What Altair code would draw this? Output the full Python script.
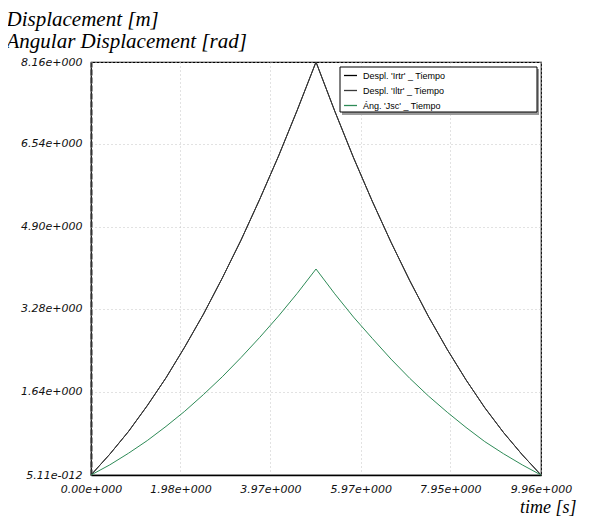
import altair as alt
import pandas as pd

# ---- data ----
time_s = [0.000, 0.415, 0.830, 1.245, 1.660, 2.075, 2.490, 2.905, 3.320, 3.735, 4.150, 4.565, 4.980,
          5.395, 5.810, 6.225, 6.640, 7.055, 7.470, 7.885, 8.300, 8.715, 9.130, 9.545, 9.960]
despl_irtr = [0.00, 0.41, 0.86, 1.37, 1.92, 2.53, 3.18, 3.89, 4.64, 5.45, 6.30, 7.21, 8.16,
              7.19, 6.27, 5.41, 4.60, 3.84, 3.13, 2.48, 1.88, 1.33, 0.84, 0.40, 0.00]
despl_iltr = [0.00, 0.41, 0.86, 1.37, 1.92, 2.53, 3.18, 3.89, 4.64, 5.45, 6.30, 7.21, 8.16,
              7.19, 6.27, 5.41, 4.60, 3.84, 3.13, 2.48, 1.88, 1.33, 0.84, 0.40, 0.00]
ang_jsc = [0.00, 0.20, 0.43, 0.68, 0.96, 1.26, 1.59, 1.94, 2.32, 2.72, 3.14, 3.59, 4.07,
           3.58, 3.12, 2.70, 2.29, 1.91, 1.56, 1.24, 0.94, 0.66, 0.42, 0.20, 0.00]

series_names = ["Despl. 'Irtr' _ Tiempo", "Despl. 'Iltr' _ Tiempo", "Áng. 'Jsc' _ Tiempo"]
series_colors = ["#000000", "#3a3a3a", "#2e8b57"]

x_tick_values = [0.0, 1.98, 3.97, 5.97, 7.95, 9.96]
x_tick_labels = ["0.00e+000", "1.98e+000", "3.97e+000", "5.97e+000", "7.95e+000", "9.96e+000"]
y_tick_values = [0.0, 1.64, 3.28, 4.90, 6.54, 8.16]
y_tick_labels = ["5.11e-012", "1.64e+000", "3.28e+000", "4.90e+000", "6.54e+000", "8.16e+000"]

y_title = ["Displacement [m]", "Angular Displacement [rad]"]
x_title = "time [s]"

# ---- build tables ----
rows = []
for name, vals in zip(series_names, [despl_irtr, despl_iltr, ang_jsc]):
    for i, (t, v) in enumerate(zip(time_s, vals)):
        rows.append({"t": t, "v": v, "series": name, "order": i})
df = pd.DataFrame(rows)

legend_df = pd.DataFrame({"series": series_names, "idx": list(range(len(series_names)))})


def label_expr(values, labels):
    expr = "datum.label"
    for v, l in reversed(list(zip(values, labels))):
        expr = f"datum.value == {v} ? '{l}' : ({expr})"
    return expr


color_scale = alt.Scale(domain=series_names, range=series_colors)
tick_font = "DejaVu Sans"
title_font = "Liberation Serif"

lines = alt.Chart(df).mark_line(strokeWidth=1).encode(
    x=alt.X("t:Q",
            scale=alt.Scale(domain=[0, 9.96], nice=False, zero=False),
            axis=alt.Axis(values=x_tick_values, labelExpr=label_expr(x_tick_values, x_tick_labels),
                          title=x_title, titleAlign="right", titleAnchor="end",
                          titleX=485, titleY=37, titleBaseline="alphabetic", titleAngle=0,
                          titleFont=title_font, titleFontStyle="italic",
                          titleFontWeight="normal", titleFontSize=18, titleColor="#000",
                          labelFont=tick_font, labelFontStyle="italic", labelFontSize=11,
                          labelColor="#111", labelPadding=8, ticks=False,
                          domainColor="#000", domainWidth=1.5,
                          grid=True, gridColor="#c4c4c4", gridDash=[1, 3], gridWidth=1,
                          labelFlush=False, labelOverlap=False)),
    y=alt.Y("v:Q",
            scale=alt.Scale(domain=[0, 8.16], nice=False, zero=False),
            axis=alt.Axis(values=y_tick_values, labelExpr=label_expr(y_tick_values, y_tick_labels),
                          title=y_title, titleAngle=0, titleAlign="left", titleAnchor="start",
                          titleX=-85, titleY=-54, titleBaseline="top", titleLineHeight=22,
                          titleFont=title_font, titleFontStyle="italic",
                          titleFontWeight="normal", titleFontSize=21, titleColor="#000",
                          labelFont=tick_font, labelFontStyle="italic", labelFontSize=11,
                          labelColor="#111", labelPadding=9, ticks=False,
                          domainColor="#333", domainWidth=2, domainDash=[6, 2],
                          grid=True, gridColor="#c4c4c4", gridDash=[1, 3], gridWidth=1,
                          labelFlush=False, labelOverlap=False)),
    color=alt.Color("series:N", scale=color_scale, sort=series_names, legend=None),
    order="order:Q",
    detail="series:N",
)

# legend box (drawn as marks so its width matches the reference)
legend_base = alt.Chart(legend_df).transform_calculate(row_y="13.5 + datum.idx * 15")

legend_shadow = legend_base.transform_filter("datum.idx == 0").mark_rect(
    fill="#9a9a9a", stroke=None).encode(
    x=alt.value(251), x2=alt.value(448), y=alt.value(7), y2=alt.value(53))
legend_box = legend_base.transform_filter("datum.idx == 0").mark_rect(
    fill="#ffffff", stroke="#000000", strokeWidth=1).encode(
    x=alt.value(249), x2=alt.value(446), y=alt.value(5), y2=alt.value(50))
legend_rules = legend_base.mark_rule(strokeWidth=1.3).encode(
    x=alt.value(253), x2=alt.value(266),
    y=alt.Y("row_y:Q", scale=None),
    color=alt.Color("series:N", scale=color_scale, sort=series_names, legend=None))
legend_text = legend_base.mark_text(
    align="left", baseline="middle", font="Liberation Sans", fontSize=9, color="#000").encode(
    x=alt.value(272), y=alt.Y("row_y:Q", scale=None), text="series:N")

chart = alt.layer(
    lines, legend_shadow, legend_box, legend_rules, legend_text
).properties(
    width=450, height=413,
    padding={"left": 83, "top": 54, "right": 40, "bottom": 42},
    autosize=alt.AutoSizeParams(type="none"),
).configure_view(stroke="#000", strokeWidth=1.2)

chart.save("out.html", embed_options={"renderer": "svg", "actions": False})
